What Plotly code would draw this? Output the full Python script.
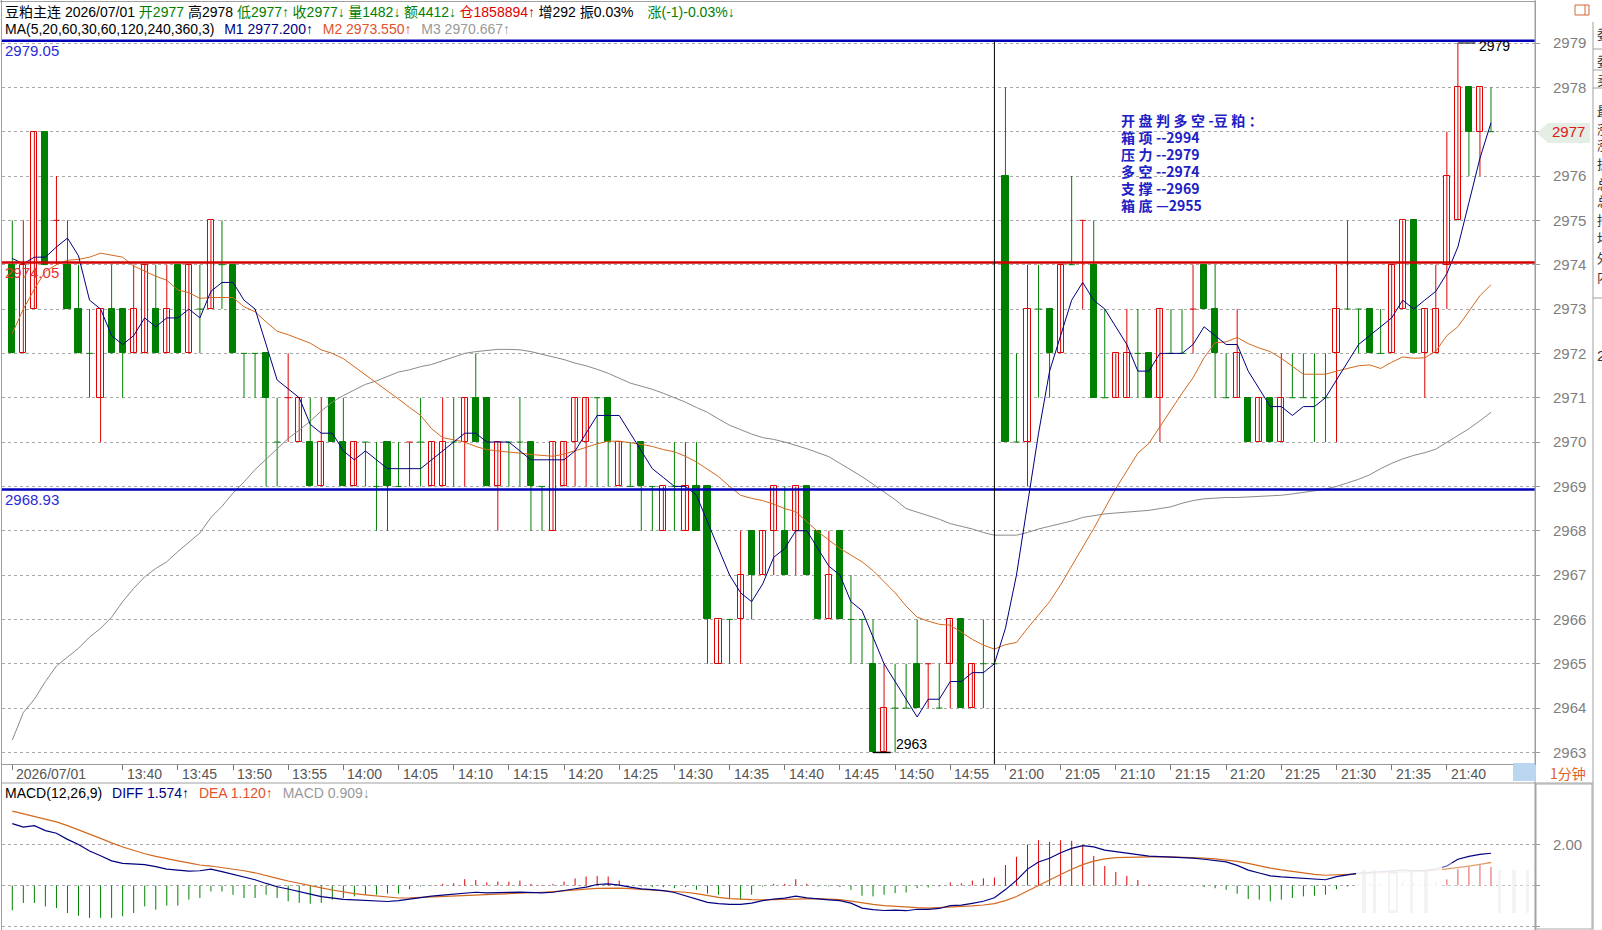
import plotly.graph_objects as go

W, H = 1602, 930

# ---------------- data ----------------
symbol = "豆粕主连"
date_str = "2026/07/01"
q_open, q_high, q_low, q_close = 2977, 2978, 2977, 2977
q_vol, q_amt, q_oi, q_inc = 1482, 4412, 1858894, 292
q_amp, q_chg, q_chg_pct = "0.03%", "-1", "-0.03%"
ma_params = "5,20,60,30,60,120,240,360,3"
ma_last = ["2977.200", "2973.550", "2970.667"]
macd_last = ["1.574", "1.120", "0.909"]

opens = [2974, 2972, 2973, 2977, 2975, 2974, 2973, 2972, 2971, 2973,
         2973, 2972, 2972, 2973, 2972, 2974, 2972, 2973, 2973, 2974,
         2974, 2972, 2972, 2972, 2970, 2971, 2970, 2970, 2969, 2971,
         2970, 2969, 2970, 2969, 2970, 2969, 2970, 2970, 2969, 2969,
         2970, 2970, 2971, 2971, 2969, 2970, 2970, 2970, 2969, 2968,
         2969, 2970, 2970, 2971, 2971, 2969, 2969, 2970, 2969, 2968,
         2969, 2968, 2969, 2969, 2965, 2966, 2966, 2968, 2967, 2968,
         2968, 2968, 2969, 2968, 2966, 2968, 2966, 2966, 2965, 2963,
         2964, 2964, 2965, 2965, 2964, 2965, 2966, 2964, 2965, 2965,
         2976, 2970, 2970, 2973, 2973, 2972, 2974, 2975, 2974, 2971,
         2971, 2971, 2972, 2972, 2971, 2972, 2972, 2973, 2974, 2973,
         2971, 2971, 2971, 2970, 2971, 2970, 2971, 2971, 2971, 2971,
         2972, 2973, 2973, 2973, 2972, 2972, 2973, 2975, 2972, 2972,
         2974, 2975, 2978, 2977, 2977]
highs = [2975, 2975, 2977, 2977, 2976, 2975, 2974, 2973, 2973, 2974,
         2973, 2974, 2974, 2974, 2974, 2974, 2974, 2974, 2975, 2975,
         2974, 2972, 2972, 2972, 2971, 2972, 2971, 2971, 2971, 2971,
         2971, 2970, 2970, 2970, 2970, 2970, 2970, 2971, 2970, 2971,
         2971, 2971, 2972, 2971, 2970, 2970, 2971, 2970, 2969, 2970,
         2970, 2971, 2971, 2971, 2971, 2970, 2970, 2970, 2969, 2969,
         2970, 2970, 2970, 2969, 2966, 2966, 2968, 2968, 2968, 2969,
         2969, 2969, 2969, 2968, 2968, 2968, 2967, 2966, 2966, 2965,
         2965, 2965, 2966, 2965, 2965, 2966, 2966, 2965, 2966, 2965,
         2978, 2972, 2974, 2974, 2973, 2974, 2976, 2975, 2975, 2973,
         2972, 2973, 2973, 2972, 2973, 2973, 2973, 2974, 2974, 2974,
         2972, 2973, 2971, 2971, 2971, 2972, 2972, 2972, 2972, 2972,
         2974, 2975, 2973, 2973, 2973, 2974, 2975, 2975, 2973, 2974,
         2977, 2979, 2978, 2978, 2978]
lows = [2972, 2972, 2973, 2974, 2974, 2973, 2972, 2971, 2970, 2972,
        2971, 2972, 2972, 2972, 2972, 2972, 2972, 2972, 2973, 2973,
        2972, 2971, 2971, 2969, 2969, 2970, 2970, 2969, 2969, 2970,
        2969, 2969, 2969, 2968, 2968, 2969, 2969, 2969, 2969, 2969,
        2969, 2969, 2970, 2969, 2968, 2969, 2969, 2968, 2968, 2968,
        2969, 2969, 2969, 2969, 2969, 2969, 2969, 2968, 2968, 2968,
        2968, 2968, 2968, 2965, 2965, 2965, 2965, 2966, 2967, 2967,
        2967, 2967, 2967, 2966, 2966, 2966, 2965, 2965, 2963, 2963,
        2963, 2964, 2964, 2964, 2964, 2964, 2964, 2964, 2964, 2965,
        2970, 2970, 2969, 2971, 2971, 2972, 2974, 2973, 2971, 2971,
        2971, 2971, 2971, 2971, 2970, 2972, 2972, 2972, 2973, 2971,
        2971, 2971, 2970, 2970, 2970, 2970, 2971, 2971, 2970, 2970,
        2970, 2973, 2972, 2972, 2972, 2972, 2973, 2972, 2971, 2972,
        2973, 2975, 2976, 2976, 2977]
closes = [2972, 2974, 2977, 2974, 2975, 2973, 2972, 2972, 2973, 2972,
          2972, 2973, 2974, 2972, 2973, 2972, 2974, 2973, 2975, 2974,
          2972, 2972, 2972, 2971, 2970, 2971, 2971, 2969, 2970, 2970,
          2969, 2970, 2970, 2969, 2969, 2969, 2970, 2970, 2970, 2970,
          2970, 2971, 2970, 2969, 2970, 2970, 2970, 2969, 2969, 2970,
          2970, 2971, 2971, 2971, 2970, 2970, 2969, 2969, 2969, 2969,
          2969, 2969, 2968, 2966, 2966, 2966, 2967, 2967, 2968, 2969,
          2967, 2969, 2967, 2966, 2967, 2966, 2966, 2966, 2963, 2964,
          2964, 2964, 2964, 2965, 2964, 2966, 2964, 2965, 2965, 2965,
          2970, 2970, 2973, 2973, 2972, 2974, 2974, 2975, 2971, 2971,
          2972, 2972, 2972, 2971, 2973, 2972, 2972, 2973, 2973, 2972,
          2971, 2972, 2970, 2971, 2970, 2971, 2971, 2971, 2971, 2971,
          2973, 2973, 2973, 2972, 2972, 2974, 2975, 2972, 2973, 2973,
          2976, 2978, 2977, 2978, 2977]

ma5 = [2974.14, 2974.02, 2974.17, 2974.17, 2974.4, 2974.6, 2974.2, 2973.2, 2973.0, 2972.4,
       2972.2, 2972.4, 2972.8, 2972.6, 2972.8, 2972.8, 2973.0, 2972.8, 2973.4, 2973.6,
       2973.6, 2973.2, 2973.0, 2972.2, 2971.4, 2971.2, 2971.0, 2970.4, 2970.2, 2970.2,
       2969.8, 2969.6, 2969.8, 2969.6, 2969.4, 2969.4, 2969.4, 2969.4, 2969.6, 2969.8,
       2970.0, 2970.2, 2970.2, 2970.0, 2970.0, 2970.0, 2969.8, 2969.6, 2969.6, 2969.6,
       2969.6, 2969.8, 2970.2, 2970.6, 2970.6, 2970.6, 2970.2, 2969.8, 2969.4, 2969.2,
       2969.0, 2969.0, 2968.8, 2968.2, 2967.6, 2967.0, 2966.6, 2966.4, 2966.8, 2967.4,
       2967.6, 2968.0, 2968.0, 2967.6, 2967.2, 2967.0, 2966.4, 2966.2, 2965.6, 2965.0,
       2964.6, 2964.2, 2963.8, 2964.2, 2964.2, 2964.6, 2964.6, 2964.8, 2964.8, 2965.0,
       2965.8, 2967.0, 2968.6, 2970.2, 2971.6, 2972.4, 2973.2, 2973.6, 2973.2, 2973.0,
       2972.6, 2972.2, 2971.6, 2971.6, 2972.0, 2972.0, 2972.0, 2972.2, 2972.6, 2972.4,
       2972.2, 2972.2, 2971.6, 2971.2, 2970.8, 2970.8, 2970.6, 2970.8, 2970.8, 2971.0,
       2971.4, 2971.8, 2972.2, 2972.4, 2972.6, 2972.8, 2973.2, 2973.0, 2973.2, 2973.4,
       2973.8, 2974.4, 2975.4, 2976.4, 2977.2]
ma20 = [2972.45, 2973.0, 2973.45, 2973.85, 2974.0, 2974.1, 2974.12, 2974.17, 2974.26, 2974.22,
        2974.17, 2973.97, 2973.85, 2973.74, 2973.65, 2973.43, 2973.37, 2973.24, 2973.26, 2973.26,
        2973.26, 2973.05, 2972.94, 2972.71, 2972.5, 2972.42, 2972.33, 2972.23, 2972.08, 2972.0,
        2971.88, 2971.7, 2971.52, 2971.34, 2971.17, 2970.97, 2970.78, 2970.6, 2970.3, 2970.1,
        2970.05, 2970.0, 2969.9, 2969.83, 2969.8, 2969.78, 2969.75, 2969.72, 2969.7, 2969.68,
        2969.73, 2969.8, 2969.88, 2969.96, 2970.02, 2970.02, 2969.99, 2969.95, 2969.9, 2969.83,
        2969.78, 2969.68, 2969.55, 2969.38, 2969.22, 2969.0, 2968.8, 2968.73, 2968.68, 2968.6,
        2968.5, 2968.43, 2968.2, 2967.98, 2967.79, 2967.6, 2967.45, 2967.3, 2967.1, 2966.85,
        2966.6, 2966.3, 2966.05, 2965.96, 2965.89, 2965.87, 2965.7, 2965.55, 2965.42, 2965.33,
        2965.43, 2965.48, 2965.8, 2966.1, 2966.4, 2966.78, 2967.2, 2967.6, 2968.05, 2968.5,
        2968.95, 2969.35, 2969.75, 2969.97, 2970.35, 2970.7, 2971.1, 2971.45, 2971.9, 2972.24,
        2972.26, 2972.36, 2972.22, 2972.12, 2972.04, 2971.89, 2971.7, 2971.53, 2971.53, 2971.53,
        2971.6, 2971.66, 2971.72, 2971.74, 2971.66, 2971.8, 2971.92, 2971.89, 2971.9, 2972.05,
        2972.4, 2972.6, 2972.95, 2973.3, 2973.55]
ma60 = [2963.28, 2963.9, 2964.2, 2964.6, 2964.95, 2965.15, 2965.35, 2965.6, 2965.8, 2966.05,
        2966.4, 2966.7, 2966.96, 2967.15, 2967.3, 2967.53, 2967.75, 2967.95, 2968.3, 2968.55,
        2968.85, 2969.1, 2969.38, 2969.62, 2969.86, 2970.08, 2970.27, 2970.47, 2970.7, 2970.9,
        2971.05, 2971.18, 2971.3, 2971.38, 2971.48, 2971.58, 2971.63, 2971.7, 2971.75, 2971.83,
        2971.92, 2972.0, 2972.04, 2972.07, 2972.09, 2972.09, 2972.08, 2972.04, 2971.98, 2971.92,
        2971.86, 2971.78, 2971.72, 2971.64, 2971.55, 2971.44, 2971.33, 2971.26, 2971.19, 2971.1,
        2971.0, 2970.9, 2970.78, 2970.67, 2970.52, 2970.38, 2970.28, 2970.18, 2970.1, 2970.06,
        2970.0, 2969.93, 2969.85, 2969.76, 2969.67, 2969.52, 2969.37, 2969.22, 2969.05, 2968.88,
        2968.7, 2968.5, 2968.42, 2968.35, 2968.26, 2968.16, 2968.1, 2968.04, 2967.96, 2967.9,
        2967.9, 2967.9, 2967.96, 2968.04, 2968.1, 2968.16, 2968.22, 2968.3, 2968.34, 2968.38,
        2968.4, 2968.42, 2968.43, 2968.46, 2968.5, 2968.54, 2968.62, 2968.68, 2968.72, 2968.74,
        2968.75, 2968.75, 2968.76, 2968.77, 2968.78, 2968.8, 2968.83, 2968.86, 2968.9, 2968.94,
        2969.0, 2969.08, 2969.16, 2969.26, 2969.4, 2969.52, 2969.62, 2969.7, 2969.76, 2969.84,
        2970.0, 2970.14, 2970.3, 2970.48, 2970.67]

diff = [3.02, 2.85, 2.92, 2.68, 2.55, 2.25, 2.0, 1.68, 1.45, 1.2,
        1.08, 1.06, 1.02, 0.92, 0.8, 0.75, 0.7, 0.72, 0.8, 0.68,
        0.55, 0.42, 0.28, 0.1, -0.06, -0.17, -0.28, -0.42, -0.54, -0.62,
        -0.68, -0.7, -0.73, -0.76, -0.78, -0.74, -0.66, -0.59, -0.52, -0.47,
        -0.42, -0.35, -0.33, -0.36, -0.36, -0.34, -0.32, -0.35, -0.36, -0.33,
        -0.26, -0.16, -0.08, 0.05, 0.08, 0.02, -0.08, -0.16, -0.2, -0.25,
        -0.34, -0.5, -0.68, -0.82, -0.88, -0.92, -0.92, -0.86, -0.74, -0.66,
        -0.62, -0.52, -0.6, -0.66, -0.7, -0.74, -0.86, -1.1, -1.18, -1.22,
        -1.2, -1.23, -1.16, -1.16, -1.12, -0.98, -0.96, -0.87, -0.77, -0.6,
        -0.2, 0.25, 0.8, 1.15, 1.33, 1.6, 1.81, 1.94, 1.88, 1.73,
        1.65, 1.58, 1.52, 1.43, 1.41, 1.39, 1.37, 1.34, 1.28, 1.23,
        1.15, 0.98, 0.75, 0.61, 0.47, 0.42, 0.38, 0.34, 0.29, 0.28,
        0.43, 0.52, 0.6, 0.64, 0.66, 0.7, 0.76, 0.72, 0.74, 0.8,
        0.95, 1.28, 1.42, 1.52, 1.574]
dea = [3.63, 3.5, 3.38, 3.25, 3.1, 2.92, 2.72, 2.5, 2.3, 2.08,
       1.88, 1.72, 1.55, 1.42, 1.3, 1.2, 1.1, 1.0, 0.95, 0.88,
       0.8, 0.72, 0.62, 0.5, 0.35, 0.22, 0.1, -0.02, -0.12, -0.22,
       -0.32, -0.4, -0.46, -0.52, -0.58, -0.61, -0.6, -0.58, -0.55, -0.52,
       -0.5, -0.48, -0.46, -0.44, -0.42, -0.4, -0.38, -0.36, -0.33, -0.3,
       -0.27, -0.22, -0.18, -0.14, -0.13, -0.13, -0.15, -0.18, -0.21, -0.24,
       -0.28, -0.33, -0.4, -0.5, -0.58, -0.64, -0.68, -0.69, -0.7, -0.69,
       -0.68, -0.66, -0.64, -0.64, -0.66, -0.69, -0.76, -0.85, -0.92, -0.98,
       -1.02, -1.06, -1.08, -1.1, -1.08, -1.05, -1.02, -0.99, -0.95, -0.88,
       -0.74, -0.54, -0.27, 0.01, 0.27, 0.54, 0.79, 1.02, 1.19, 1.3,
       1.36, 1.38, 1.4, 1.41, 1.41, 1.4, 1.39, 1.37, 1.34, 1.3,
       1.25, 1.18, 1.08, 0.95, 0.85, 0.76, 0.68, 0.6, 0.54, 0.5,
       0.52, 0.54, 0.56, 0.58, 0.6, 0.63, 0.66, 0.68, 0.7, 0.74,
       0.8, 0.88, 0.95, 1.03, 1.12]
macd_hist = [-1.21, -0.85, -0.85, -1.02, -1.1, -1.34, -1.47, -1.58, -1.58, -1.58,
             -1.5, -1.34, -1.02, -1.18, -0.98, -0.98, -0.69, -0.61, -0.29, -0.29,
             -0.45, -0.61, -0.61, -0.45, -0.61, -0.77, -0.85, -0.89, -0.85, -0.69,
             -0.61, -0.53, -0.45, -0.45, -0.4, -0.4, -0.18, -0.05, 0.02, 0.08,
             0.11, 0.31, 0.27, 0.15, 0.19, 0.19, 0.24, 0.08, 0.03, 0.08,
             0.19, 0.35, 0.44, 0.47, 0.44, 0.24, 0.0, -0.05, -0.08, -0.08,
             -0.13, -0.08, -0.21, -0.4, -0.45, -0.66, -0.69, -0.45, -0.05, 0.08,
             0.08, 0.31, 0.08, -0.05, -0.05, -0.08, -0.21, -0.5, -0.53, -0.45,
             -0.37, -0.34, -0.13, -0.1, -0.05, 0.15, 0.11, 0.24, 0.35, 0.39,
             1.0, 1.4, 2.0, 2.21, 2.13, 2.21, 2.18, 1.92, 1.44, 0.95,
             0.66, 0.47, 0.27, 0.05, 0.03, 0.0, -0.02, -0.04, -0.08, -0.13,
             -0.21, -0.4, -0.66, -0.69, -0.77, -0.69, -0.61, -0.53, -0.5, -0.45,
             -0.18, -0.05, 0.08, 0.1, 0.12, 0.15, 0.2, 0.1, 0.12, 0.2,
             0.3, 0.8, 0.92, 1.05, 0.909]

price_ticks = [2963, 2964, 2965, 2966, 2967, 2968, 2969, 2970, 2971,
               2972, 2973, 2974, 2975, 2976, 2977, 2978, 2979]
last_price = 2977
macd_ticks = [-2, 0, 2]
macd_tick_text = ["-2.00", "", "2.00"]

time_tick_bar = [0, 10, 15, 20, 25, 30, 35, 40, 45, 50, 55, 60, 65, 70, 75, 80, 85,
                 90, 95, 100, 105, 110, 115, 120, 125, 130]
time_tick_text = ["2026/07/01", "13:40", "13:45", "13:50", "13:55", "14:00", "14:05",
                  "14:10", "14:15", "14:20", "14:25", "14:30", "14:35", "14:40", "14:45",
                  "14:50", "14:55", "21:00", "21:05", "21:10", "21:15", "21:20", "21:25",
                  "21:30", "21:35", "21:40"]
session_break_bar = 89

levels = [2979.05, 2974.05, 2968.93]
hi_bar, hi_val = 131, 2979
lo_bar, lo_val = 78, 2963

note_lines = ["开盘判多空-豆粕：", "箱项--2994", "压力--2979", "多空--2974", "支撑--2969", "箱底—2955"]
side_chars = ["委", "委", "卖", "最", "涨", "涨", "振", "总", "总", "持", "均", "外", "内"]

# ---------------- styles / geometry ----------------
RED = "#e00000"
GREEN = "#008000"
NAVY = "#000080"
ORANGE = "#d2691e"
AXIS = "#9a9a9a"
LVL_BLUE = "#0000b8"
LVL_RED = "#d00000"
CJK = "Liberation Sans, Arial, Noto Sans CJK SC"

X_L, X_R = 2, 1535
Y_T, Y_B = 2, 764
Y_M = 783
BAR0, PXB = 12.3, 11.035
P_Y0, PXP = 43.0, 44.34
M_Y0, PXM = 885.5, 20.5


def fx(px):
    return px / W


def fy(py):
    return 1 - py / H


x_range = [(X_L - BAR0) / PXB, (X_R - BAR0) / PXB]
y_range = [2979 - (Y_B - P_Y0) / PXP, 2979 + (P_Y0 - Y_T) / PXP]
y2_range = [-(H - M_Y0) / PXM, (M_Y0 - Y_M) / PXM]

n = len(closes)
xs = list(range(n))

up_x, up_b, up_h, dn_x, dn_b, dn_h = [], [], [], [], [], []
wr_x, wr_y, wg_x, wg_y = [], [], [], []
dr_x, dr_y, dg_x, dg_y = [], [], [], []
HALF = 0.29
for i in range(n):
    o, h, l, c = opens[i], highs[i], lows[i], closes[i]
    if c > o:
        rising = True
    elif c < o:
        rising = False
    else:
        rising = i > 0 and c > closes[i - 1]
    if rising:
        wr_x += [i, i, None]; wr_y += [l, h, None]
    else:
        wg_x += [i, i, None]; wg_y += [l, h, None]
    if c == o:
        if rising:
            dr_x += [i - HALF, i + HALF, None]; dr_y += [c, c, None]
        else:
            dg_x += [i - HALF, i + HALF, None]; dg_y += [c, c, None]
    elif rising:
        up_x.append(i); up_b.append(o); up_h.append(c - o)
    else:
        dn_x.append(i); dn_b.append(c); dn_h.append(o - c)

fig = go.Figure()


def line_trace(x, y, color, width=1, xa="x", ya="y"):
    return go.Scatter(x=x, y=y, mode="lines", line=dict(color=color, width=width),
                      xaxis=xa, yaxis=ya, hoverinfo="skip", showlegend=False,
                      connectgaps=False)


fig.add_trace(line_trace(wg_x, wg_y, GREEN))
fig.add_trace(line_trace(wr_x, wr_y, RED))
fig.add_trace(go.Bar(x=dn_x, y=dn_h, base=dn_b, width=0.56,
                     marker=dict(color=GREEN, line=dict(color=GREEN, width=1)),
                     xaxis="x", yaxis="y", hoverinfo="skip", showlegend=False))
fig.add_trace(go.Bar(x=up_x, y=up_h, base=up_b, width=0.56,
                     marker=dict(color="white", line=dict(color=RED, width=1)),
                     xaxis="x", yaxis="y", hoverinfo="skip", showlegend=False))
fig.add_trace(line_trace(dg_x, dg_y, GREEN))
fig.add_trace(line_trace(dr_x, dr_y, RED))
fig.add_trace(line_trace(xs, ma60, "#8a8a8a"))
fig.add_trace(line_trace(xs, ma20, ORANGE))
fig.add_trace(line_trace(xs, ma5, NAVY))

# MACD panel
hr_x, hr_y, hg_x, hg_y = [], [], [], []
for i, v in enumerate(macd_hist):
    if v >= 0:
        hr_x += [i, i, None]; hr_y += [0, v, None]
    else:
        hg_x += [i, i, None]; hg_y += [0, v, None]
fig.add_trace(line_trace(hr_x, hr_y, RED, 1, "x2", "y2"))
fig.add_trace(line_trace(hg_x, hg_y, GREEN, 1, "x2", "y2"))
fig.add_trace(line_trace(xs, dea, ORANGE, 1.2, "x2", "y2"))
fig.add_trace(line_trace(xs, diff, NAVY, 1.2, "x2", "y2"))

shapes = []


def pline(x0, y0, x1, y1, color=AXIS, width=1, layer="above"):
    return dict(type="line", xref="paper", yref="paper", x0=fx(x0), y0=fy(y0), x1=fx(x1), y1=fy(y1),
                line=dict(color=color, width=width), layer=layer)


def prect(x0, y0, x1, y1, fill, line_color=None, opacity=1.0, layer="above"):
    return dict(type="rect", xref="paper", yref="paper", x0=fx(x0), y0=fy(y1), x1=fx(x1), y1=fy(y0),
                fillcolor=fill, opacity=opacity, layer=layer,
                line=dict(color=line_color or fill, width=1 if line_color else 0))


# support / resistance level lines
for lv, col in zip(levels, [LVL_BLUE, LVL_RED, LVL_BLUE]):
    shapes.append(dict(type="line", xref="x domain", yref="y", x0=0, x1=1, y0=lv, y1=lv,
                       line=dict(color=col, width=2.4), layer="above"))
# session separator
shapes.append(dict(type="line", xref="x", yref="y", x0=session_break_bar, x1=session_break_bar,
                   y0=y_range[0], y1=levels[0], line=dict(color="black", width=1), layer="above"))
# high / low markers
shapes.append(dict(type="line", xref="x", yref="y", x0=hi_bar, x1=hi_bar + 1.6, y0=hi_val, y1=hi_val,
                   line=dict(color="black", width=1), layer="above"))
shapes.append(dict(type="line", xref="x", yref="y", x0=lo_bar, x1=lo_bar + 1.6, y0=lo_val, y1=lo_val,
                   line=dict(color="black", width=1.5), layer="above"))

# frame
shapes.append(pline(0, 1.5, 1536, 1.5, "#a0a0a0"))
shapes.append(pline(1.5, 0, 1.5, H, "#a0a0a0"))
shapes.append(pline(X_L, Y_M, 1593, Y_M, "#a0a0a0"))
shapes.append(pline(X_R, 0, X_R, H, "#a0a0a0"))
shapes.append(prect(1536, Y_M + 1, 1592, H - 1, "rgba(0,0,0,0)", "#a8a8a8"))
shapes.append(pline(1593, 22, 1593, H, "#a0a0a0"))
for yy in [49, 70, 88, 298]:
    shapes.append(pline(1593, yy, W, yy, "#a0a0a0"))
# period button
shapes.append(prect(1513, 763, 1535, 781, "#bcd5f1"))
# small window icon
shapes.append(prect(1575, 5, 1589, 15, "rgba(0,0,0,0)", "#d06a30"))
shapes.append(pline(1585, 5, 1585, 15, "#d06a30"))
# current price marker background
pts = [(1537, 133), (1548, 123), (1590, 123), (1590, 143), (1548, 143)]
path = "M " + " L ".join(f"{fx(a):.6f},{fy(b):.6f}" for a, b in pts) + " Z"
shapes.append(dict(type="path", xref="paper", yref="paper", path=path,
                   fillcolor="#e4eee4", line=dict(width=0), layer="above"))
# blurred ghost overlay in the MACD panel
shapes.append(prect(1356, 863, 1442, 918, "white", opacity=0.9))
shapes.append(prect(1442, 863, 1534, 918, "white", opacity=0.35))
for gx, gw in [(1362, 4), (1373, 3), (1388, 10), (1410, 3), (1424, 4), (1498, 3), (1512, 4), (1526, 3)]:
    shapes.append(prect(gx, 870, gx + gw, 913, "#ebebeb", opacity=0.6))
shapes.append(prect(1390, 874, 1396, 910, "white", opacity=0.9))

ann = []


def ptext(x, y, text, size=14, color="black", family=CJK, xanchor="left", **kw):
    d = dict(xref="paper", yref="paper", x=fx(x), y=fy(y), text=text, showarrow=False,
             xanchor=xanchor, yanchor="middle", font=dict(size=size, color=color, family=family))
    d.update(kw)
    return d


A = "\u2005"      # small gap that follows the arrows in the header
G = "\u2002\u2009"  # gap between header groups
line1 = (f"{symbol} {date_str} "
         f"<span style='color:{GREEN}'>开{q_open}</span> 高{q_high} "
         f"<span style='color:{GREEN}'>低{q_low}↑{A}收{q_close}↓{A}量{q_vol}↓{A}额{q_amt}↓{A}</span>"
         f"<span style='color:{RED}'>仓{q_oi}↑{A}</span>增{q_inc} 振{q_amp}\u2003"
         f"<span style='color:{GREEN}'>涨({q_chg}){q_chg_pct}↓</span>")
line2 = (f"MA({ma_params}){G}<span style='color:{NAVY}'>M1 {ma_last[0]}↑</span>{G}"
         f"<span style='color:#e0522c'>M2 {ma_last[1]}↑</span>{G}"
         f"<span style='color:#999999'>M3 {ma_last[2]}↑</span>")
ann.append(ptext(3, 12, line1))
ann.append(ptext(3, 29, line2))

macd_title = (f"MACD(12,26,9){G}<span style='color:{NAVY}'>DIFF {macd_last[0]}↑</span>{G}"
              f"<span style='color:#e0522c'>DEA {macd_last[1]}↑</span>{G}"
              f"<span style='color:#999999'>MACD {macd_last[2]}↓</span>")
ann.append(ptext(3, 793, macd_title))

# level labels
for lv, col in zip(levels, ["#2a2ad8", "#e83030", "#2a2ad8"]):
    ann.append(dict(xref="paper", yref="y", x=fx(3), y=lv, yshift=-10, text=f"{lv:.2f}",
                    showarrow=False, xanchor="left", yanchor="middle",
                    font=dict(size=15, color=col, family="Liberation Sans, Arial")))

# high / low labels
ann.append(dict(xref="x", yref="y", x=hi_bar + 1.6, y=hi_val, xshift=1, yshift=-3, text=str(hi_val),
                showarrow=False, xanchor="left", yanchor="middle",
                font=dict(size=14, color="black", family="Liberation Sans, Arial")))
ann.append(dict(xref="x", yref="y", x=lo_bar + 1.6, y=lo_val, xshift=3, yshift=8, text=str(lo_val),
                showarrow=False, xanchor="left", yanchor="middle",
                font=dict(size=14, color="black", family="Liberation Sans, Arial")))

# note box: one multi-line annotation, 14px glyphs on a ~17px line pitch
sp = "\u2005"
rows = []
for t in note_lines:
    spaced = ""
    for ch in t:
        spaced += ch + (sp if ord(ch) > 0x2e80 else "")
    rows.append(f"<span style='font-size:14px'><b>{spaced}</b></span>")
ann.append(dict(xref="paper", yref="paper", x=fx(1119), y=fy(120 + 2.5 * 16.9),
                text="<br>".join(rows), showarrow=False, xanchor="left", yanchor="middle",
                align="left", font=dict(size=13, color="#2020c4", family="Noto Sans CJK SC")))

# time labels
for b, t in zip(time_tick_bar, time_tick_text):
    ann.append(dict(xref="x", yref="paper", x=b, y=fy(774), xshift=2, text=t, showarrow=False,
                    xanchor="left", yanchor="middle",
                    font=dict(size=14, color="#555555", family="Liberation Sans, Arial")))

ann.append(ptext(1548, 773, "1分钟", size=14, color="#e0601e", family="Noto Sans CJK SC"))
ann.append(dict(xref="paper", yref="y", x=fx(1587), y=last_price, text=str(last_price), showarrow=False,
                xanchor="right", yanchor="middle",
                font=dict(size=15, color="#e01818", family="Liberation Sans, Arial")))

side_y = [33, 61, 79, 110, 128, 145, 164, 183, 201, 219, 238, 257, 276]
for ch, yy in zip(side_chars, side_y):
    ann.append(ptext(1595, yy, ch, size=13, color="#333333", family="Noto Sans CJK SC"))
ann.append(ptext(1595, 355, "2", size=15, color="#333333", family="Liberation Sans, Arial"))

price_text = [("" if v == last_price else str(v)) for v in price_ticks]

fig.update_layout(
    width=W, height=H, autosize=False, margin=dict(l=0, r=0, t=0, b=0, pad=0),
    paper_bgcolor="white", plot_bgcolor="white", showlegend=False,
    barmode="overlay", bargap=0,
    xaxis=dict(domain=[fx(X_L), fx(X_R)], range=x_range, anchor="y", showgrid=False,
               zeroline=False, showline=True, linecolor=AXIS, linewidth=1,
               ticks="outside", ticklen=5, tickcolor="#777777", tickwidth=1,
               tickvals=time_tick_bar, showticklabels=False, fixedrange=True),
    yaxis=dict(domain=[fy(Y_B), fy(Y_T)], range=y_range, side="right", anchor="x",
               showgrid=True, gridcolor="#a8a8a8", griddash="dot", gridwidth=1,
               zeroline=False, showline=True, linecolor=AXIS, linewidth=1,
               ticks="outside", ticklen=4, tickcolor=AXIS,
               tickvals=price_ticks, ticktext=price_text, ticklabelstandoff=10,
               tickfont=dict(size=15, color="#7f7f7f", family="Liberation Sans, Arial"),
               fixedrange=True),
    xaxis2=dict(domain=[fx(X_L), fx(X_R)], range=x_range, anchor="y2", showgrid=False,
                zeroline=False, showline=False, showticklabels=False, ticks="", fixedrange=True),
    yaxis2=dict(domain=[0, fy(Y_M)], range=y2_range, side="right", anchor="x2",
                showgrid=True, gridcolor="#a8a8a8", griddash="dot", gridwidth=1,
                zeroline=False, showline=True, linecolor=AXIS, linewidth=1,
                ticks="outside", ticklen=4, tickcolor=AXIS,
                tickvals=macd_ticks, ticktext=macd_tick_text, ticklabelstandoff=10,
                tickfont=dict(size=15, color="#7f7f7f", family="Liberation Sans, Arial"),
                fixedrange=True),
    shapes=shapes, annotations=ann,
)

fig.write_html("out.html")
